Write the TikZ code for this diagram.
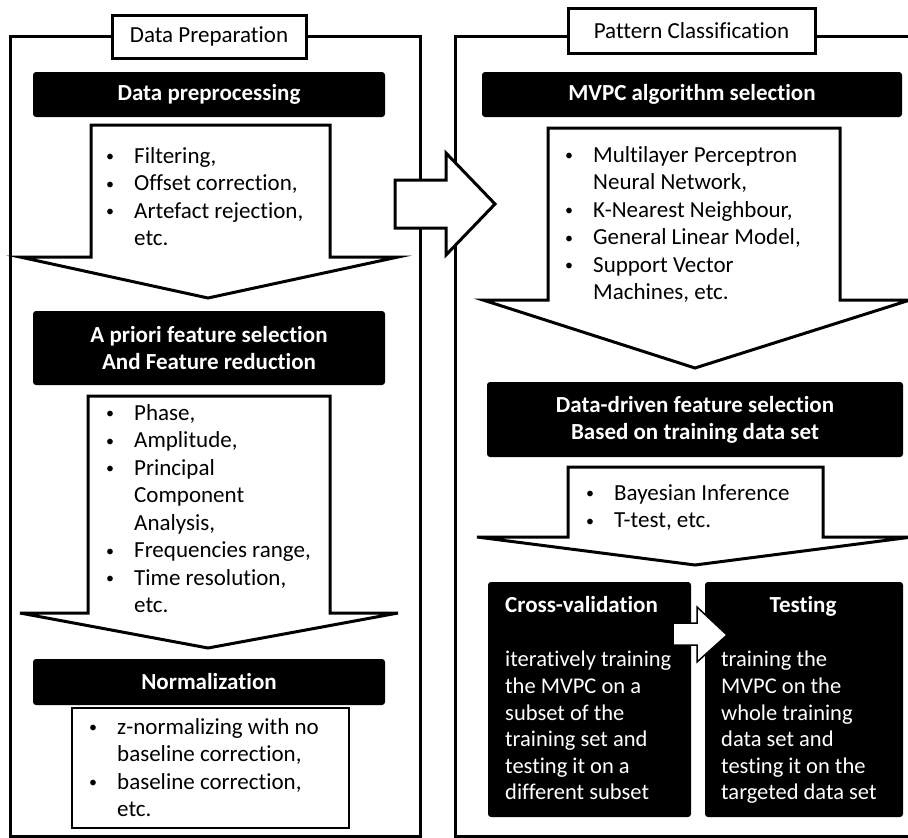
\documentclass[tikz,border=0pt]{standalone}
\usepackage{fontspec}
\setmainfont{Carlito}[Ligatures=NoCommon]
\newcommand\itm{\makebox[30pt][l]{\hspace*{2pt}\raisebox{1.5pt}{\fontsize{16}{16}\selectfont\textbullet}}}
\newcommand\ind{\hspace*{30pt}}
\tikzset{
  frame/.style={draw, line width=3pt},
  title/.style={draw, line width=3pt, fill=white, inner sep=0pt,
    font=\fontsize{23}{27}\selectfont},
  bar/.style={fill=black, rounded corners=3pt, text=white, align=center,
    inner sep=0pt, font=\fontsize{23}{27}\selectfont\bfseries},
  fatarrow/.style={draw, line width=3pt, fill=white},
  listtext/.style={anchor=north west, align=left, inner sep=0pt,
    font=\fontsize{23}{27.5}\selectfont},
}
\begin{document}
\begin{tikzpicture}[x=1pt, y=-1pt]
\clip (0,0) rectangle (908,838);
% the two panels
\draw[frame] (10,36) rectangle (420,836);
\draw[frame] (455,36) rectangle (920,836);
\node[title, minimum width=194pt, minimum height=43pt] (prep) at (209,36.5) {Data Preparation};
\node[title, minimum width=247pt, minimum height=45pt] (classif) at (691.5,30.5) {Pattern Classification};
\draw[fatarrow] (395,180) -- (446,180) -- (446,153) -- (495,204) -- (446,255) -- (446,228) -- (395,228) -- cycle;

% data preparation
\node[bar, minimum width=352pt, minimum height=45pt] (preproc) at (209,94.5) {Data preprocessing};
\draw[fatarrow] (91,125) -- (330,125) -- (330,257) -- (398,257) -- (208,298) -- (20,257) -- (91,257) -- cycle;
\node[listtext] (filt) at (104,144) {\strut\itm Filtering,\\ \itm Offset correction,\\ \itm Artefact rejection,\\ \ind etc.};
\node[bar, minimum width=352pt, minimum height=74pt] (apriori) at (209,348) {A priori feature selection\\ And Feature reduction};
\draw[fatarrow] (88,396) -- (330,396) -- (330,613) -- (398,613) -- (208,648) -- (20,613) -- (88,613) -- cycle;
\node[listtext] (feat) at (104,401) {\strut\itm Phase,\\ \itm Amplitude,\\ \itm Principal\\ \ind Component\\ \ind Analysis,\\ \itm Frequencies range,\\ \itm Time resolution,\\ \ind etc.};
\node[bar, minimum width=352pt, minimum height=46pt] (norm) at (209,682) {Normalization};
\draw[line width=2.5pt] (72,708) rectangle (349,828);
\node[listtext] (znorm) at (87,715) {\strut\itm z-normalizing with no\\ \ind baseline correction,\\ \itm baseline correction,\\ \ind etc.};

% pattern classification
\node[bar, minimum width=420pt, minimum height=45pt] (mvpc) at (692,94.5) {MVPC algorithm selection};
\draw[fatarrow] (548,128) -- (840,128) -- (840,300) -- (910,300) -- (695,368) -- (483,300) -- (548,300) -- cycle;
\node[listtext] (algo) at (563,143) {\strut\itm Multilayer Perceptron\\ \ind Neural Network,\\ \itm K-Nearest Neighbour,\\ \itm General Linear Model,\\ \itm Support Vector\\ \ind Machines, etc.};
\node[bar, minimum width=416pt, minimum height=75pt] (driven) at (695,419.5) {Data-driven feature selection\\ Based on training data set};
\draw[fatarrow] (568,467) -- (823,467) -- (823,537) -- (912,537) -- (695,565) -- (477,537) -- (568,537) -- cycle;
\node[listtext] (bayes) at (584,481) {\strut\itm Bayesian Inference\\ \itm T-test, etc.};

\node[bar, minimum width=203pt, minimum height=235pt] (cross) at (589.5,699.5) {};
\node[bar, minimum width=198pt, minimum height=235pt] (test) at (804,699.5) {};
\draw[fill=white, line width=1.5pt] (673,623) -- (697,623) -- (697,607) -- (727,635) -- (697,662) -- (697,645) -- (673,645) -- cycle;
\node[anchor=base west, text=white, inner sep=0pt, font=\fontsize{23}{27}\selectfont\bfseries] (crosshead) at (505,612) {Cross-validation};
\node[anchor=base, text=white, inner sep=0pt, font=\fontsize{23}{27}\selectfont\bfseries] (testhead) at (803,612) {Testing};
\node[listtext, text=white, font=\fontsize{22.5}{26.6}\selectfont] (crossbody) at (505,648) {\strut iteratively training\\ the MVPC on a\\ subset of the\\ training set and\\ testing it on a\\ different subset};
\node[listtext, text=white, font=\fontsize{22.5}{26.6}\selectfont] (testbody) at (721,648) {\strut training the\\ MVPC on the\\ whole training\\ data set and\\ testing it on the\\ targeted data set};
\end{tikzpicture}
\end{document}
